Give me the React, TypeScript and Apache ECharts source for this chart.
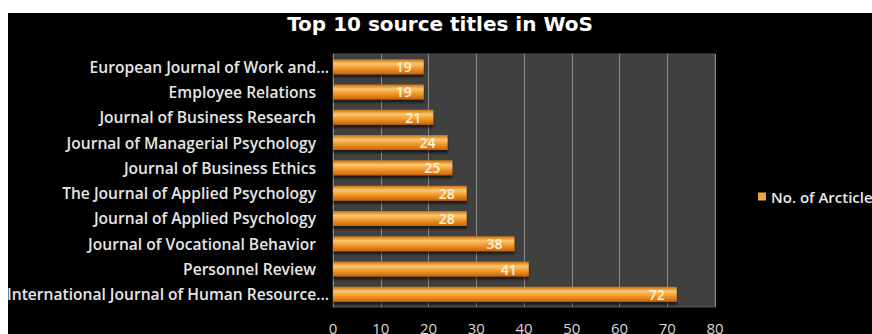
import React, { useEffect, useRef } from "react";
import * as echarts from "echarts";

const categories = [
  "International Journal of Human Resource...",
  "Personnel Review",
  "Journal of Vocational Behavior",
  "Journal of Applied Psychology",
  "The Journal of Applied Psychology",
  "Journal of Business Ethics",
  "Journal of Managerial Psychology",
  "Journal of Business Research",
  "Employee Relations",
  "European Journal of Work and...",
];
const articles = [72, 41, 38, 28, 28, 25, 24, 21, 19, 19];
const seriesName = "No. of Arcticles";
const titleText = "Top 10 source titles in WoS";

export default function App() {
  const ref = useRef<HTMLDivElement>(null);
  useEffect(() => {
    if (!ref.current) return;
    const chart = echarts.init(ref.current, null, { renderer: "svg" });
    const barColor = new echarts.graphic.LinearGradient(0, 0, 0, 1, [
      { offset: 0, color: "#c8700c" },
      { offset: 0.3, color: "#fbc670" },
      { offset: 0.55, color: "#f6a134" },
      { offset: 1, color: "#c76308" },
    ]);
    const labelStyle = {
      color: "#e6e6e6",
      fontFamily: "Open Sans",
      fontWeight: 600,
      fontSize: 15.6,
    };
    chart.setOption({
      animation: false,
      backgroundColor: "#000000",
      title: {
        text: titleText,
        left: "center",
        top: -4,
        textStyle: {
          color: "#ffffff",
          fontFamily: "DejaVu Sans",
          fontWeight: "bold",
          fontSize: 20,
        },
      },
      legend: {
        orient: "vertical",
        left: 745,
        top: 171,
        itemWidth: 8,
        itemHeight: 8,
        itemGap: 6,
        icon: "rect",
        textStyle: {
          color: "#e8e8e8",
          fontFamily: "Open Sans",
          fontWeight: 600,
          fontSize: 15,
        },
        data: [{ name: seriesName, itemStyle: { color: "#eea545" } }],
      },
      grid: {
        left: 325,
        right: 157,
        top: 41,
        bottom: 27,
        outerBoundsMode: "none",
        containLabel: false,
        show: true,
        backgroundColor: "#404040",
        borderColor: "#555555",
        borderWidth: 1,
      },
      xAxis: {
        type: "value",
        min: 0,
        max: 80,
        interval: 10,
        axisLine: { show: false },
        axisTick: { show: false },
        splitLine: { show: true, lineStyle: { color: "#8c8c8c", width: 1 } },
        axisLabel: {
          color: "#d8d8d8",
          fontFamily: "Open Sans",
          fontSize: 15,
          margin: 13,
        },
      },
      yAxis: {
        type: "category",
        data: categories,
        axisLine: { show: false },
        axisTick: { show: false },
        axisLabel: {
          margin: 4,
          formatter: (v: string) =>
            v.endsWith("...") ? `{a|${v}}` : `{b|${v}}`,
          rich: {
            a: { ...labelStyle },
            b: { ...labelStyle, padding: [0, 13, 0, 0] },
          },
        },
      },
      series: [
        {
          name: seriesName,
          type: "bar",
          data: articles,
          barWidth: 15,
          itemStyle: {
            color: barColor,
            shadowColor: "rgba(0,0,0,0.6)",
            shadowOffsetY: 3,
            shadowBlur: 2,
          },
          label: {
            show: true,
            position: "insideRight",
            distance: 12,
            color: "#fff0da",
            fontFamily: "Open Sans",
            fontWeight: 600,
            fontSize: 14,
          },
        },
      ],
    });
    return () => chart.dispose();
  }, []);
  return (
    <div
      style={{
        position: "fixed",
        left: 0,
        top: 0,
        width: 872,
        height: 334,
        background: "#ffffff",
        overflow: "hidden",
      }}
    >
      <div
        ref={ref}
        style={{ position: "absolute", left: 8, top: 13, width: 864, height: 321 }}
      />
    </div>
  );
}
